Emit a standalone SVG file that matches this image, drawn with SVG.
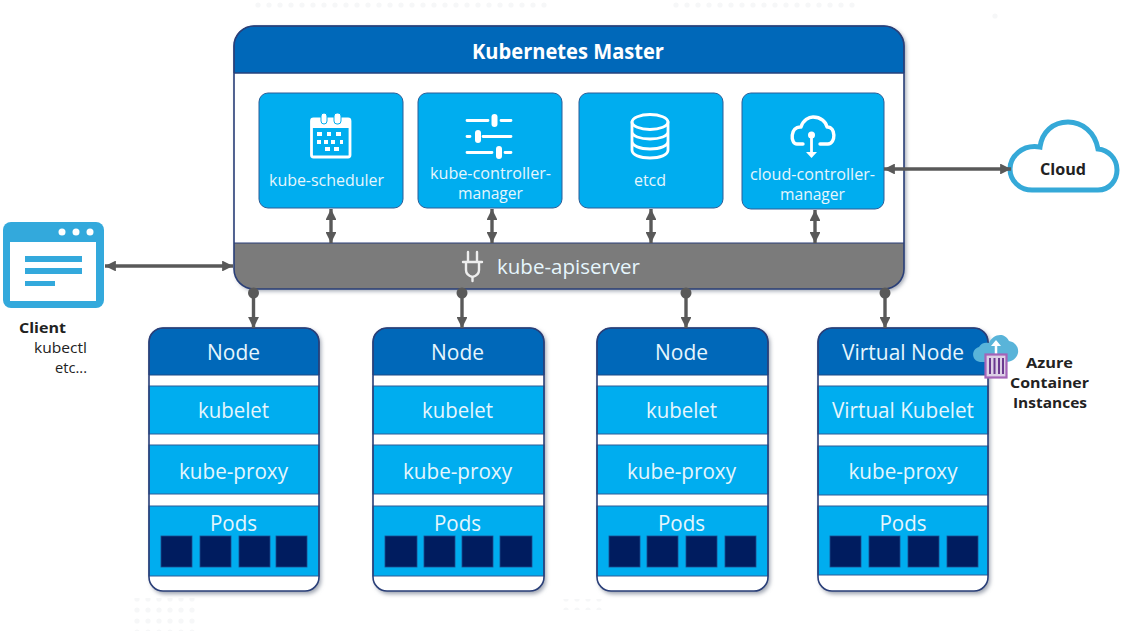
<svg xmlns="http://www.w3.org/2000/svg" width="1129" height="631" viewBox="0 0 1129 631">
<style>
text{font-family:"Open Sans","Noto Sans","Liberation Sans",sans-serif;text-anchor:middle}
.w{fill:#e6f6fd}
.t15{font-size:16px}.t19{font-size:20px}.t20{font-size:21px}
.b{font-weight:700;fill:#222;font-size:15px}
.k{fill:#222;font-size:15px}
.hdr{fill:#0068b9;stroke:#1d4a86;stroke-width:1}
.edge{fill:#00adef;stroke:#2c5d97;stroke-width:1}
.pod{fill:#001c5f;stroke:#1c4c8c;stroke-width:.8}
.frame{fill:none;stroke:#2a3f78;stroke-width:1.6}
.ico{fill:none;stroke:#fff;stroke-width:2.800;stroke-linecap:round;stroke-linejoin:round}
.icof{fill:#fff}
.con{stroke:#595959;stroke-width:3.400;fill:none}
.dot{fill:#595959}
</style>
<defs>
<marker id="ah" viewBox="0 0 10 10" refX="10" refY="5" markerWidth="3.200" markerHeight="3.200" orient="auto-start-reverse" markerUnits="strokeWidth"><path d="M0 0L10 5L0 10Z" fill="#595959"/></marker>
<filter id="sh" x="-5%" y="-5%" width="110%" height="110%"><feGaussianBlur stdDeviation="2"/></filter>
<pattern id="dots" width="11" height="11" patternUnits="userSpaceOnUse"><circle cx="5" cy="5" r="2.6" fill="#f6f7f8"/></pattern>
</defs>

<g id="background">
<rect x="250" y="0" width="300" height="11" fill="url(#dots)"/>
<rect x="670" y="0" width="190" height="11" fill="url(#dots)"/>
<rect x="132" y="598" width="66" height="33" fill="url(#dots)"/>
<rect x="560" y="599" width="44" height="11" fill="url(#dots)"/>
<rect x="990" y="10" width="11" height="11" fill="url(#dots)"/>
</g>

<g id="master">
<rect x="236" y="28" width="670" height="263" rx="20" fill="#9aa0ad" filter="url(#sh)"/>
<rect x="234" y="26" width="670" height="263" rx="20" fill="#fff"/>
<path class="hdr" d="M234 73V46a20 20 0 0 1 20-20H884a20 20 0 0 1 20 20V73Z"/>
<path d="M234 243H904V269a20 20 0 0 1-20 20H254a20 20 0 0 1-20-20Z" fill="#7b7b7b"/>
<path d="M234 73H904M234 243H904" stroke="#2a3f78" stroke-width="1.2"/>
<rect class="frame" x="234" y="26" width="670" height="263" rx="20"/>
<text x="568" y="59" font-size="21" font-weight="700" fill="#fff" textLength="192" lengthAdjust="spacingAndGlyphs">Kubernetes Master</text>
</g>

<g id="kube-scheduler">
<rect class="edge" x="259" y="93" width="144" height="115" rx="9"/>
<rect class="ico" x="311.500" y="119" width="38.500" height="38" rx="2"/>
<path class="icof" d="M311 119h40v9h-40Z"/>
<rect class="icof" x="321" y="113" width="6" height="11" rx="3" stroke="#00adef" stroke-width="1"/>
<rect class="icof" x="334" y="113" width="7" height="11" rx="3" stroke="#00adef" stroke-width="1"/>
<path class="icof" d="M317 132h5v4h-5ZM327 132h4v4h-4ZM336 132h5v4h-5ZM317 140h4v4h-4ZM324 140h4v4h-4ZM331 140h4v4h-4ZM325 147h5v4h-5ZM334 147h5v4h-5ZM340 140h3v4h-3Z"/>
<text class="w t15" x="326.500" y="186" textLength="115" lengthAdjust="spacingAndGlyphs">kube-scheduler</text>
</g>

<g id="kube-controller-manager">
<rect class="edge" x="418" y="93" width="144" height="115" rx="9"/>
<path class="ico" d="M467 120.500H488M501 120.500H511M467 136.500H470M483 136.500H511M467 152.500H492M505 152.500H511"/>
<rect class="icof" x="491.500" y="114" width="6" height="13" rx="3"/>
<rect class="icof" x="475" y="130" width="6" height="13" rx="3"/>
<rect class="icof" x="496" y="146" width="6" height="13" rx="3"/>
<text class="w t15" x="490.500" y="179" textLength="121" lengthAdjust="spacingAndGlyphs">kube-controller-</text>
<text class="w t15" x="490.500" y="199" textLength="65" lengthAdjust="spacingAndGlyphs">manager</text>
</g>

<g id="etcd">
<rect class="edge" x="579" y="93" width="144" height="115" rx="9"/>
<ellipse class="ico" cx="650" cy="122" rx="18" ry="7.500"/>
<path class="ico" d="M632 122V150C632 155 640 158 650 158S668 155 668 150V122M632 131.500C632 136 640 139 650 139S668 136 668 131.500M632 141C632 146 640 149 650 149S668 146 668 141"/>
<text class="w t15" x="650" y="186" textLength="32" lengthAdjust="spacingAndGlyphs">etcd</text>
</g>

<g id="cloud-controller-manager">
<rect class="edge" x="742" y="93" width="142" height="116" rx="9"/>
<path class="ico" d="M803 144H797C790 144 790 126 801 127C803 120 809 117 813 117C821 117 826 122 827 127C836 126 836 144 828 144H820" style="stroke-width:3.400"/>
<path class="ico" d="M811.500 136V154"/>
<circle class="icof" cx="811.500" cy="135" r="3.500"/>
<path class="icof" d="M806 152H817L811.500 158Z"/>
<text class="w t15" x="812.500" y="180" textLength="125" lengthAdjust="spacingAndGlyphs">cloud-controller-</text>
<text class="w t15" x="812.500" y="200" textLength="65" lengthAdjust="spacingAndGlyphs">manager</text>
</g>

<g id="kube-apiserver">
<path class="ico" d="M463 262H482M466 262V270C466 274 469 276 472.500 277C476 276 479 274 479 270V262M468 262V252M477 262V252M472.500 277V281" style="stroke:#eee;stroke-width:2.400"/>
<text class="w t19" x="568.500" y="274" textLength="143" lengthAdjust="spacingAndGlyphs">kube-apiserver</text>
</g>

<g id="client">
<rect x="3" y="222" width="101" height="86" rx="8" fill="#33a9dc"/>
<rect x="10" y="242" width="86" height="59" fill="#fff"/>
<circle cx="62" cy="232" r="3.500" fill="#fff"/><circle cx="76" cy="232" r="3.500" fill="#fff"/><circle cx="90" cy="232" r="3.500" fill="#fff"/>
<path d="M25 256h57v6h-57ZM25 268h57v6h-57ZM25 281h30v5h-30Z" fill="#33a9dc"/>
<text class="b" x="42.500" y="333" textLength="47" lengthAdjust="spacingAndGlyphs">Client</text>
<text class="k" x="60.500" y="353" textLength="53" lengthAdjust="spacingAndGlyphs">kubectl</text>
<text class="k" x="71" y="373" textLength="32" lengthAdjust="spacingAndGlyphs">etc...</text>
</g>

<g id="cloud">
<path d="M1032 190H1098C1110 190 1117 180 1117 170C1117 158 1108 150 1098 149C1095 132 1082 122 1068 122C1053 122 1042 132 1040 147C1022 144 1010 157 1010 169C1010 181 1020 190 1032 190Z" fill="#fff" stroke="#35a9d8" stroke-width="5"/>
<text x="1063" y="175" font-size="16" font-weight="700" fill="#222" textLength="46" lengthAdjust="spacingAndGlyphs">Cloud</text>
</g>

<g id="node-1">
<rect x="151" y="330" width="170" height="264" rx="14" fill="#9aa0ad" filter="url(#sh)"/>
<rect x="149" y="328" width="170" height="263" rx="14" fill="#fff"/>
<path class="hdr" d="M149 375V342a14 14 0 0 1 14-14H305a14 14 0 0 1 14 14V375Z"/>
<rect class="edge" x="149" y="386" width="170" height="48"/>
<rect class="edge" x="149" y="445" width="170" height="49"/>
<rect class="edge" x="149" y="506" width="170" height="70"/>
<rect class="frame" x="149" y="328" width="170" height="263" rx="14"/>
<rect class="pod" x="161" y="536" width="31" height="31"/><rect class="pod" x="200" y="536" width="31" height="31"/><rect class="pod" x="239" y="536" width="31" height="31"/><rect class="pod" x="276" y="536" width="31" height="31"/>
<text class="w t20" x="233.500" y="360" textLength="53" lengthAdjust="spacingAndGlyphs">Node</text>
<text class="w t20" x="233.500" y="418" textLength="71" lengthAdjust="spacingAndGlyphs">kubelet</text>
<text class="w t20" x="233.500" y="479" textLength="109" lengthAdjust="spacingAndGlyphs">kube-proxy</text>
<text class="w t20" x="233.500" y="531" textLength="47" lengthAdjust="spacingAndGlyphs">Pods</text>
</g>

<g id="node-2">
<rect x="375" y="330" width="171" height="264" rx="14" fill="#9aa0ad" filter="url(#sh)"/>
<rect x="373" y="328" width="171" height="263" rx="14" fill="#fff"/>
<path class="hdr" d="M373 375V342a14 14 0 0 1 14-14H530a14 14 0 0 1 14 14V375Z"/>
<rect class="edge" x="373" y="386" width="171" height="48"/>
<rect class="edge" x="373" y="445" width="171" height="49"/>
<rect class="edge" x="373" y="506" width="171" height="70"/>
<rect class="frame" x="373" y="328" width="171" height="263" rx="14"/>
<rect class="pod" x="385" y="536" width="32" height="31"/><rect class="pod" x="424" y="536" width="31" height="31"/><rect class="pod" x="462" y="536" width="31" height="31"/><rect class="pod" x="500" y="536" width="32" height="31"/>
<text class="w t20" x="457.500" y="360" textLength="53" lengthAdjust="spacingAndGlyphs">Node</text>
<text class="w t20" x="457.500" y="418" textLength="71" lengthAdjust="spacingAndGlyphs">kubelet</text>
<text class="w t20" x="457.500" y="479" textLength="109" lengthAdjust="spacingAndGlyphs">kube-proxy</text>
<text class="w t20" x="457.500" y="531" textLength="47" lengthAdjust="spacingAndGlyphs">Pods</text>
</g>

<g id="node-3">
<rect x="599" y="330" width="171" height="264" rx="14" fill="#9aa0ad" filter="url(#sh)"/>
<rect x="597" y="328" width="171" height="263" rx="14" fill="#fff"/>
<path class="hdr" d="M597 375V342a14 14 0 0 1 14-14H754a14 14 0 0 1 14 14V375Z"/>
<rect class="edge" x="597" y="386" width="171" height="48"/>
<rect class="edge" x="597" y="445" width="171" height="49"/>
<rect class="edge" x="597" y="506" width="171" height="70"/>
<rect class="frame" x="597" y="328" width="171" height="263" rx="14"/>
<rect class="pod" x="609" y="536" width="31" height="31"/><rect class="pod" x="647" y="536" width="31" height="31"/><rect class="pod" x="686" y="536" width="31" height="31"/><rect class="pod" x="725" y="536" width="31" height="31"/>
<text class="w t20" x="681.500" y="360" textLength="53" lengthAdjust="spacingAndGlyphs">Node</text>
<text class="w t20" x="681.500" y="418" textLength="71" lengthAdjust="spacingAndGlyphs">kubelet</text>
<text class="w t20" x="681.500" y="479" textLength="109" lengthAdjust="spacingAndGlyphs">kube-proxy</text>
<text class="w t20" x="681.500" y="531" textLength="47" lengthAdjust="spacingAndGlyphs">Pods</text>
</g>

<g id="virtual-node">
<rect x="820" y="330" width="170" height="264" rx="14" fill="#9aa0ad" filter="url(#sh)"/>
<rect x="818" y="328" width="170" height="263" rx="14" fill="#fff"/>
<path class="hdr" d="M818 375V342a14 14 0 0 1 14-14H974a14 14 0 0 1 14 14V375Z"/>
<rect class="edge" x="818" y="386" width="170" height="48"/>
<rect class="edge" x="818" y="446" width="170" height="49"/>
<rect class="edge" x="818" y="506" width="170" height="69"/>
<rect class="frame" x="818" y="328" width="170" height="263" rx="14"/>
<rect class="pod" x="830" y="536" width="31" height="31"/><rect class="pod" x="869" y="536" width="31" height="31"/><rect class="pod" x="908" y="536" width="31" height="31"/><rect class="pod" x="947" y="536" width="31" height="31"/>
<text class="w t20" x="903" y="360" textLength="122" lengthAdjust="spacingAndGlyphs">Virtual Node</text>
<text class="w t20" x="903" y="418" textLength="142" lengthAdjust="spacingAndGlyphs">Virtual Kubelet</text>
<text class="w t20" x="903" y="479" textLength="109" lengthAdjust="spacingAndGlyphs">kube-proxy</text>
<text class="w t20" x="903" y="531" textLength="47" lengthAdjust="spacingAndGlyphs">Pods</text>
</g>

<g id="azure-container-instances">
<path d="M980 362C971 361 971 349 979 347C981 343 985 342 989 343C992 335 1004 331 1009 341C1015 342 1019 347 1018 353C1017 358 1012 362 1006 362Z" fill="#59b4d9"/>
<path d="M996 354V345" stroke="#fff" stroke-width="2.500"/>
<path d="M991 346L996 340L1001 346Z" fill="#fff"/>
<rect x="985.500" y="354.500" width="21" height="23" fill="#ddd0e6" stroke="#a463b8" stroke-width="2.200"/>
<path d="M990 358V374M994.500 358V374M999 358V374M1003 358V374" stroke="#6b3a8f" stroke-width="2"/>
<text class="b" x="1049.500" y="368" textLength="47" lengthAdjust="spacingAndGlyphs">Azure</text>
<text class="b" x="1049.500" y="388" textLength="79" lengthAdjust="spacingAndGlyphs">Container</text>
<text class="b" x="1050" y="408" textLength="74" lengthAdjust="spacingAndGlyphs">Instances</text>
</g>

<g id="connectors">
<path class="con" d="M331 209V243" marker-start="url(#ah)" marker-end="url(#ah)"/>
<path class="con" d="M492 209V243" marker-start="url(#ah)" marker-end="url(#ah)"/>
<path class="con" d="M651 209V243" marker-start="url(#ah)" marker-end="url(#ah)"/>
<path class="con" d="M815 210V243" marker-start="url(#ah)" marker-end="url(#ah)"/>
<path class="con" d="M105 266H233" marker-start="url(#ah)" marker-end="url(#ah)"/>
<path class="con" d="M884 169H1011" marker-start="url(#ah)" marker-end="url(#ah)"/>
<circle class="dot" cx="253.500" cy="293" r="5.500"/><path class="con" d="M253.500 293V328" marker-end="url(#ah)"/>
<circle class="dot" cx="462" cy="293" r="5.500"/><path class="con" d="M462 293V328" marker-end="url(#ah)"/>
<circle class="dot" cx="686" cy="293" r="5.500"/><path class="con" d="M686 293V328" marker-end="url(#ah)"/>
<circle class="dot" cx="885" cy="293" r="5.500"/><path class="con" d="M885 293V328" marker-end="url(#ah)"/>
</g>
</svg>
